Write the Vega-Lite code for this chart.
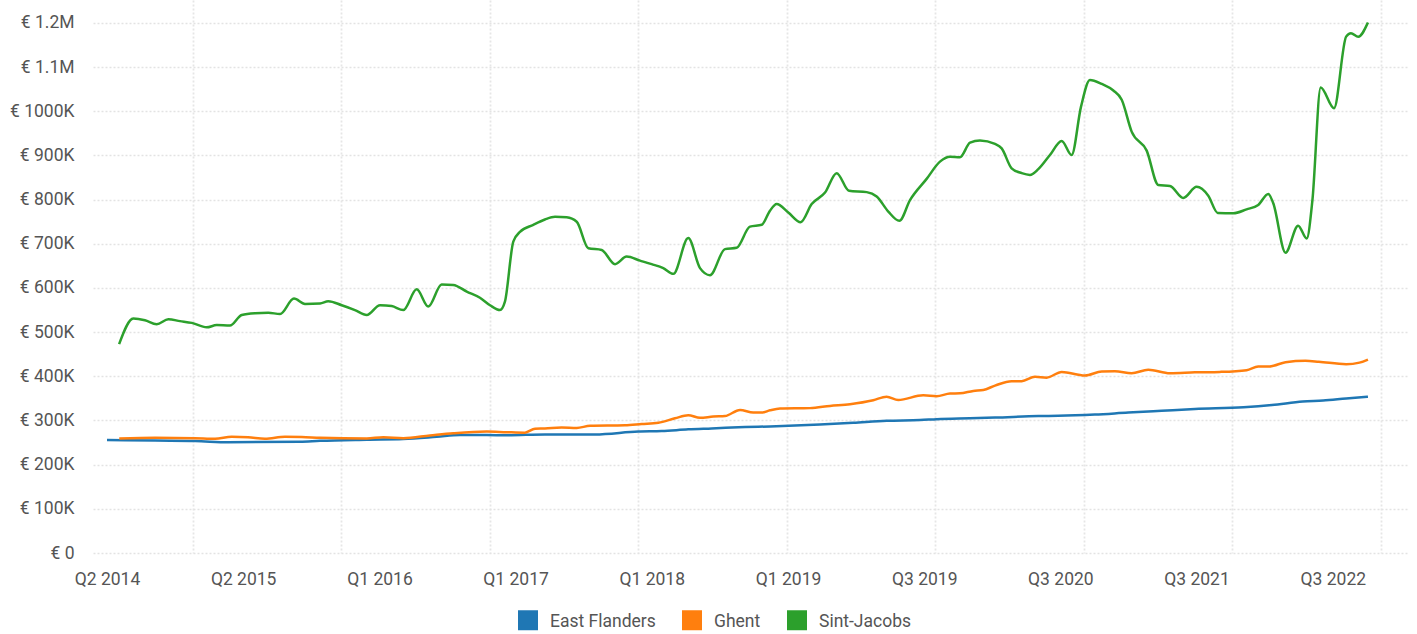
{
  "$schema": "https://vega.github.io/schema/vega-lite/v6.json",
  "width": 1314,
  "height": 553,
  "autosize": {"type": "none"},
  "padding": {"left": 93, "top": 0, "right": 10, "bottom": 81},
  "background": "white",
  "config": {
    "view": {"stroke": null},
    "font": "Roboto",
    "axis": {"labelFont": "Roboto", "labelFontSize": 17.5, "labelColor": "#555555", "ticks": false, "domain": false, "title": null},
    "legend": {"labelFont": "Roboto", "labelFontSize": 17.5, "labelColor": "#555555"}
  },
  "data": {
    "values": [
      {"region": "East Flanders", "i": 0, "price": 256000},
      {"region": "East Flanders", "i": 3.96, "price": 254500},
      {"region": "East Flanders", "i": 7.26, "price": 253600},
      {"region": "East Flanders", "i": 10.0, "price": 250500},
      {"region": "East Flanders", "i": 15.92, "price": 252000},
      {"region": "East Flanders", "i": 17.57, "price": 254000},
      {"region": "East Flanders", "i": 21.42, "price": 256500},
      {"region": "East Flanders", "i": 24.44, "price": 258000},
      {"region": "East Flanders", "i": 27.19, "price": 263000},
      {"region": "East Flanders", "i": 29.11, "price": 267000},
      {"region": "East Flanders", "i": 31.32, "price": 267000},
      {"region": "East Flanders", "i": 32.97, "price": 266500},
      {"region": "East Flanders", "i": 36.12, "price": 268500},
      {"region": "East Flanders", "i": 40.25, "price": 268500},
      {"region": "East Flanders", "i": 43.82, "price": 275000},
      {"region": "East Flanders", "i": 45.75, "price": 276000},
      {"region": "East Flanders", "i": 47.94, "price": 280000},
      {"region": "East Flanders", "i": 49.87, "price": 282000},
      {"region": "East Flanders", "i": 52.62, "price": 285000},
      {"region": "East Flanders", "i": 54.68, "price": 286500},
      {"region": "East Flanders", "i": 58.8, "price": 291000},
      {"region": "East Flanders", "i": 61.55, "price": 295000},
      {"region": "East Flanders", "i": 64.3, "price": 299500},
      {"region": "East Flanders", "i": 67.05, "price": 301000},
      {"region": "East Flanders", "i": 68.43, "price": 303000},
      {"region": "East Flanders", "i": 71.18, "price": 305000},
      {"region": "East Flanders", "i": 73.24, "price": 306500},
      {"region": "East Flanders", "i": 76.81, "price": 310000},
      {"region": "East Flanders", "i": 78.46, "price": 310500},
      {"region": "East Flanders", "i": 81.48, "price": 313500},
      {"region": "East Flanders", "i": 84.23, "price": 318000},
      {"region": "East Flanders", "i": 86.98, "price": 322000},
      {"region": "East Flanders", "i": 89.73, "price": 326000},
      {"region": "East Flanders", "i": 93.74, "price": 330000},
      {"region": "East Flanders", "i": 96.08, "price": 335000},
      {"region": "East Flanders", "i": 98.62, "price": 343000},
      {"region": "East Flanders", "i": 100.3, "price": 345500},
      {"region": "East Flanders", "i": 102.2, "price": 350000},
      {"region": "East Flanders", "i": 104.0, "price": 354000},

      {"region": "Ghent", "i": 1.01, "price": 259000},
      {"region": "Ghent", "i": 3.96, "price": 261000},
      {"region": "Ghent", "i": 7.26, "price": 260000},
      {"region": "Ghent", "i": 8.91, "price": 258500},
      {"region": "Ghent", "i": 10.28, "price": 263000},
      {"region": "Ghent", "i": 11.63, "price": 262000},
      {"region": "Ghent", "i": 13.03, "price": 258500},
      {"region": "Ghent", "i": 14.68, "price": 263000},
      {"region": "Ghent", "i": 16.06, "price": 262500},
      {"region": "Ghent", "i": 17.57, "price": 261000},
      {"region": "Ghent", "i": 21.42, "price": 259500},
      {"region": "Ghent", "i": 22.79, "price": 262000},
      {"region": "Ghent", "i": 24.44, "price": 260000},
      {"region": "Ghent", "i": 26.64, "price": 266000},
      {"region": "Ghent", "i": 28.56, "price": 271000},
      {"region": "Ghent", "i": 31.32, "price": 275000},
      {"region": "Ghent", "i": 32.97, "price": 273500},
      {"region": "Ghent", "i": 34.47, "price": 272500},
      {"region": "Ghent", "i": 35.3, "price": 281500},
      {"region": "Ghent", "i": 36.12, "price": 282000},
      {"region": "Ghent", "i": 37.5, "price": 284000},
      {"region": "Ghent", "i": 38.74, "price": 283000},
      {"region": "Ghent", "i": 39.84, "price": 288000},
      {"region": "Ghent", "i": 42.72, "price": 289000},
      {"region": "Ghent", "i": 44.1, "price": 292000},
      {"region": "Ghent", "i": 45.47, "price": 295000},
      {"region": "Ghent", "i": 46.85, "price": 305000},
      {"region": "Ghent", "i": 47.94, "price": 312000},
      {"region": "Ghent", "i": 48.91, "price": 306000},
      {"region": "Ghent", "i": 50.0, "price": 309000},
      {"region": "Ghent", "i": 50.97, "price": 310000},
      {"region": "Ghent", "i": 52.21, "price": 324000},
      {"region": "Ghent", "i": 53.3, "price": 318000},
      {"region": "Ghent", "i": 54.0, "price": 318000},
      {"region": "Ghent", "i": 54.68, "price": 323000},
      {"region": "Ghent", "i": 55.51, "price": 327000},
      {"region": "Ghent", "i": 57.98, "price": 328000},
      {"region": "Ghent", "i": 59.63, "price": 333000},
      {"region": "Ghent", "i": 61.28, "price": 337000},
      {"region": "Ghent", "i": 63.2, "price": 346000},
      {"region": "Ghent", "i": 64.3, "price": 354000},
      {"region": "Ghent", "i": 65.26, "price": 346500},
      {"region": "Ghent", "i": 67.32, "price": 357000},
      {"region": "Ghent", "i": 68.43, "price": 355000},
      {"region": "Ghent", "i": 69.53, "price": 361000},
      {"region": "Ghent", "i": 70.35, "price": 361500},
      {"region": "Ghent", "i": 71.45, "price": 367000},
      {"region": "Ghent", "i": 72.27, "price": 369000},
      {"region": "Ghent", "i": 73.24, "price": 379000},
      {"region": "Ghent", "i": 74.61, "price": 389000},
      {"region": "Ghent", "i": 75.44, "price": 389000},
      {"region": "Ghent", "i": 76.54, "price": 399000},
      {"region": "Ghent", "i": 77.5, "price": 397000},
      {"region": "Ghent", "i": 78.74, "price": 410000},
      {"region": "Ghent", "i": 80.66, "price": 402000},
      {"region": "Ghent", "i": 82.04, "price": 411000},
      {"region": "Ghent", "i": 83.13, "price": 411500},
      {"region": "Ghent", "i": 84.51, "price": 407000},
      {"region": "Ghent", "i": 85.88, "price": 415000},
      {"region": "Ghent", "i": 87.67, "price": 407000},
      {"region": "Ghent", "i": 89.73, "price": 409000},
      {"region": "Ghent", "i": 91.79, "price": 410000},
      {"region": "Ghent", "i": 93.99, "price": 414000},
      {"region": "Ghent", "i": 94.95, "price": 422000},
      {"region": "Ghent", "i": 95.92, "price": 422500},
      {"region": "Ghent", "i": 97.2, "price": 432000},
      {"region": "Ghent", "i": 98.85, "price": 435000},
      {"region": "Ghent", "i": 99.95, "price": 433000},
      {"region": "Ghent", "i": 102.2, "price": 427500},
      {"region": "Ghent", "i": 103.3, "price": 431000},
      {"region": "Ghent", "i": 104.0, "price": 438000},

      {"region": "Sint-Jacobs", "i": 1.0, "price": 473000},
      {"region": "Sint-Jacobs", "i": 2.17, "price": 531000},
      {"region": "Sint-Jacobs", "i": 3.13, "price": 527000},
      {"region": "Sint-Jacobs", "i": 4.1, "price": 518000},
      {"region": "Sint-Jacobs", "i": 5.06, "price": 529000},
      {"region": "Sint-Jacobs", "i": 6.02, "price": 525000},
      {"region": "Sint-Jacobs", "i": 6.99, "price": 521000},
      {"region": "Sint-Jacobs", "i": 8.22, "price": 511000},
      {"region": "Sint-Jacobs", "i": 9.05, "price": 516000},
      {"region": "Sint-Jacobs", "i": 10.14, "price": 515000},
      {"region": "Sint-Jacobs", "i": 11.11, "price": 539000},
      {"region": "Sint-Jacobs", "i": 12.21, "price": 543000},
      {"region": "Sint-Jacobs", "i": 13.3, "price": 544000},
      {"region": "Sint-Jacobs", "i": 14.27, "price": 541000},
      {"region": "Sint-Jacobs", "i": 15.42, "price": 576000},
      {"region": "Sint-Jacobs", "i": 16.33, "price": 564000},
      {"region": "Sint-Jacobs", "i": 17.57, "price": 565000},
      {"region": "Sint-Jacobs", "i": 18.25, "price": 570000},
      {"region": "Sint-Jacobs", "i": 19.36, "price": 561000},
      {"region": "Sint-Jacobs", "i": 20.45, "price": 550000},
      {"region": "Sint-Jacobs", "i": 21.42, "price": 539000},
      {"region": "Sint-Jacobs", "i": 22.52, "price": 561000},
      {"region": "Sint-Jacobs", "i": 23.48, "price": 559000},
      {"region": "Sint-Jacobs", "i": 24.44, "price": 550000},
      {"region": "Sint-Jacobs", "i": 25.54, "price": 597000},
      {"region": "Sint-Jacobs", "i": 26.5, "price": 558000},
      {"region": "Sint-Jacobs", "i": 27.6, "price": 608000},
      {"region": "Sint-Jacobs", "i": 28.56, "price": 607000},
      {"region": "Sint-Jacobs", "i": 29.67, "price": 592000},
      {"region": "Sint-Jacobs", "i": 30.76, "price": 578000},
      {"region": "Sint-Jacobs", "i": 31.59, "price": 561000},
      {"region": "Sint-Jacobs", "i": 32.41, "price": 550000},
      {"region": "Sint-Jacobs", "i": 32.82, "price": 569000},
      {"region": "Sint-Jacobs", "i": 33.51, "price": 705000},
      {"region": "Sint-Jacobs", "i": 34.06, "price": 727000},
      {"region": "Sint-Jacobs", "i": 35.16, "price": 743000},
      {"region": "Sint-Jacobs", "i": 36.12, "price": 755000},
      {"region": "Sint-Jacobs", "i": 36.95, "price": 761000},
      {"region": "Sint-Jacobs", "i": 37.91, "price": 760000},
      {"region": "Sint-Jacobs", "i": 38.74, "price": 750000},
      {"region": "Sint-Jacobs", "i": 39.7, "price": 690000},
      {"region": "Sint-Jacobs", "i": 40.8, "price": 686000},
      {"region": "Sint-Jacobs", "i": 41.9, "price": 654000},
      {"region": "Sint-Jacobs", "i": 42.86, "price": 671000},
      {"region": "Sint-Jacobs", "i": 43.96, "price": 662000},
      {"region": "Sint-Jacobs", "i": 44.92, "price": 654000},
      {"region": "Sint-Jacobs", "i": 45.88, "price": 645000},
      {"region": "Sint-Jacobs", "i": 46.71, "price": 632000},
      {"region": "Sint-Jacobs", "i": 47.94, "price": 713000},
      {"region": "Sint-Jacobs", "i": 48.91, "price": 645000},
      {"region": "Sint-Jacobs", "i": 49.73, "price": 629000},
      {"region": "Sint-Jacobs", "i": 50.97, "price": 688000},
      {"region": "Sint-Jacobs", "i": 51.93, "price": 691000},
      {"region": "Sint-Jacobs", "i": 53.03, "price": 739000},
      {"region": "Sint-Jacobs", "i": 54.0, "price": 743000},
      {"region": "Sint-Jacobs", "i": 54.68, "price": 775000},
      {"region": "Sint-Jacobs", "i": 55.23, "price": 790000},
      {"region": "Sint-Jacobs", "i": 56.19, "price": 771000},
      {"region": "Sint-Jacobs", "i": 57.21, "price": 749000},
      {"region": "Sint-Jacobs", "i": 58.12, "price": 790000},
      {"region": "Sint-Jacobs", "i": 59.22, "price": 816000},
      {"region": "Sint-Jacobs", "i": 60.18, "price": 860000},
      {"region": "Sint-Jacobs", "i": 61.2, "price": 820000},
      {"region": "Sint-Jacobs", "i": 62.66, "price": 817000},
      {"region": "Sint-Jacobs", "i": 63.48, "price": 807000},
      {"region": "Sint-Jacobs", "i": 64.44, "price": 773000},
      {"region": "Sint-Jacobs", "i": 65.35, "price": 752000},
      {"region": "Sint-Jacobs", "i": 66.23, "price": 799000},
      {"region": "Sint-Jacobs", "i": 67.6, "price": 847000},
      {"region": "Sint-Jacobs", "i": 68.7, "price": 886000},
      {"region": "Sint-Jacobs", "i": 69.53, "price": 897000},
      {"region": "Sint-Jacobs", "i": 70.35, "price": 896000},
      {"region": "Sint-Jacobs", "i": 71.18, "price": 929000},
      {"region": "Sint-Jacobs", "i": 72.0, "price": 934000},
      {"region": "Sint-Jacobs", "i": 73.24, "price": 926000},
      {"region": "Sint-Jacobs", "i": 73.79, "price": 916000},
      {"region": "Sint-Jacobs", "i": 74.61, "price": 871000},
      {"region": "Sint-Jacobs", "i": 75.44, "price": 860000},
      {"region": "Sint-Jacobs", "i": 76.12, "price": 856000},
      {"region": "Sint-Jacobs", "i": 76.81, "price": 869000},
      {"region": "Sint-Jacobs", "i": 77.77, "price": 901000},
      {"region": "Sint-Jacobs", "i": 78.74, "price": 933000},
      {"region": "Sint-Jacobs", "i": 79.56, "price": 901000},
      {"region": "Sint-Jacobs", "i": 80.33, "price": 1010000},
      {"region": "Sint-Jacobs", "i": 81.07, "price": 1071000},
      {"region": "Sint-Jacobs", "i": 82.04, "price": 1062000},
      {"region": "Sint-Jacobs", "i": 83.0, "price": 1047000},
      {"region": "Sint-Jacobs", "i": 83.69, "price": 1026000},
      {"region": "Sint-Jacobs", "i": 84.51, "price": 954000},
      {"region": "Sint-Jacobs", "i": 85.75, "price": 911000},
      {"region": "Sint-Jacobs", "i": 86.71, "price": 833000},
      {"region": "Sint-Jacobs", "i": 87.67, "price": 831000},
      {"region": "Sint-Jacobs", "i": 88.77, "price": 804000},
      {"region": "Sint-Jacobs", "i": 89.87, "price": 829000},
      {"region": "Sint-Jacobs", "i": 90.83, "price": 809000},
      {"region": "Sint-Jacobs", "i": 91.61, "price": 770000},
      {"region": "Sint-Jacobs", "i": 92.89, "price": 769000},
      {"region": "Sint-Jacobs", "i": 93.99, "price": 778000},
      {"region": "Sint-Jacobs", "i": 94.95, "price": 788000},
      {"region": "Sint-Jacobs", "i": 95.78, "price": 813000},
      {"region": "Sint-Jacobs", "i": 96.19, "price": 792000},
      {"region": "Sint-Jacobs", "i": 97.2, "price": 680000},
      {"region": "Sint-Jacobs", "i": 98.24, "price": 741000},
      {"region": "Sint-Jacobs", "i": 98.95, "price": 712000},
      {"region": "Sint-Jacobs", "i": 99.42, "price": 799000},
      {"region": "Sint-Jacobs", "i": 100.1, "price": 1054000},
      {"region": "Sint-Jacobs", "i": 101.2, "price": 1007000},
      {"region": "Sint-Jacobs", "i": 102.2, "price": 1169000},
      {"region": "Sint-Jacobs", "i": 102.6, "price": 1177000},
      {"region": "Sint-Jacobs", "i": 103.2, "price": 1169000},
      {"region": "Sint-Jacobs", "i": 104.0, "price": 1201000}
    ]
  },
  "mark": {"type": "line", "interpolate": "monotone", "strokeWidth": 2.5},
  "encoding": {
    "x": {
      "field": "i",
      "type": "quantitative",
      "scale": {"domain": [-1.155, 107.22], "nice": false, "zero": false},
      "axis": {
        "values": [0, 7.09, 11.23, 19.34, 22.47, 31.59, 33.7, 43.83, 44.93, 56.08, 56.17, 67.4, 68.33, 78.63, 80.58, 89.86, 92.82, 101.1, 105.07],
        "labelExpr": "indexof([0,11.23,22.47,33.7,44.93,56.17,67.4,78.63,89.86,101.1], datum.value) >= 0 ? ['Q2 2014','Q2 2015','Q1 2016','Q1 2017','Q1 2018','Q1 2019','Q3 2019','Q3 2020','Q3 2021','Q3 2022'][indexof([0,11.23,22.47,33.7,44.93,56.17,67.4,78.63,89.86,101.1], datum.value)] : ''",
        "labelOverlap": false,
        "labelFlush": false,
        "labelBound": false,
        "labelPadding": 17,
        "grid": true,
        "gridColor": "#e6e6e6",
        "gridDash": [2, 2],
        "gridWidth": 1.8,
        "gridOpacity": {"condition": {"test": "indexof([7.09,19.34,31.59,43.83,56.08,68.33,80.58,92.82,105.07], datum.value) >= 0", "value": 1}, "value": 0}
      }
    },
    "y": {
      "field": "price",
      "type": "quantitative",
      "scale": {"domain": [0, 1252000], "nice": false},
      "axis": {
        "values": [0, 100000, 200000, 300000, 400000, 500000, 600000, 700000, 800000, 900000, 1000000, 1100000, 1200000],
        "labelExpr": "datum.value >= 1100000 ? '€ ' + format(datum.value / 1000000, '.1f') + 'M' : (datum.value == 0 ? '€ 0' : '€ ' + format(datum.value / 1000, 'd') + 'K')",
        "labelPadding": 19,
        "grid": true,
        "gridColor": "#e3e3e3",
        "gridDash": [2, 2],
        "gridWidth": 1.3
      }
    },
    "color": {
      "field": "region",
      "type": "nominal",
      "scale": {"domain": ["East Flanders", "Ghent", "Sint-Jacobs"], "range": ["#1f77b4", "#ff7f0e", "#2ca02c"]},
      "legend": {
        "title": null,
        "orient": "none",
        "direction": "horizontal",
        "legendX": 425,
        "legendY": 610,
        "padding": 0,
        "symbolType": "square",
        "symbolSize": 400,
        "symbolStrokeWidth": 0,
        "symbolOpacity": 1,
        "labelOffset": 12,
        "columnPadding": 26,
        "encode": {
          "symbols": {"update": {"fill": {"scale": "color", "field": "value"}, "fillOpacity": {"value": 1}, "strokeWidth": {"value": 0}}},
          "labels": {"update": {"dy": {"value": 2}}}
        }
      }
    }
  }
}
